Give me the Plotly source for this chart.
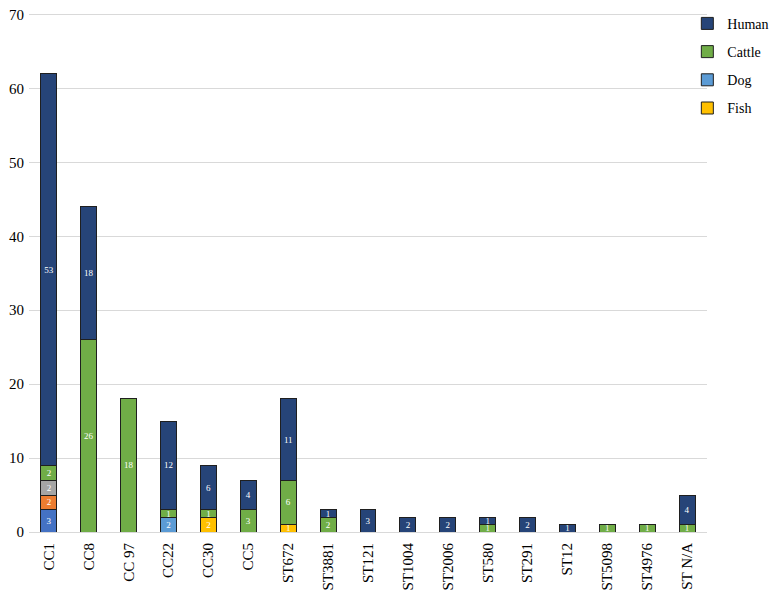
import plotly.graph_objects as go

# kategorie i wartości
categories = ["CC1", "CC8", "CC 97", "CC22", "CC30", "CC5", "ST672", "ST3881", "ST121",
              "ST1004", "ST2006", "ST580", "ST291", "ST12", "ST5098", "ST4976", "ST N/A"]

other_blue = [3, 0, 0, 0, 0, 0, 0, 0, 0, 0, 0, 0, 0, 0, 0, 0, 0]
other_orange = [2, 0, 0, 0, 0, 0, 0, 0, 0, 0, 0, 0, 0, 0, 0, 0, 0]
other_gray = [2, 0, 0, 0, 0, 0, 0, 0, 0, 0, 0, 0, 0, 0, 0, 0, 0]
dog = [0, 0, 0, 2, 0, 0, 0, 0, 0, 0, 0, 0, 0, 0, 0, 0, 0]
fish = [0, 0, 0, 0, 2, 0, 1, 0, 0, 0, 0, 0, 0, 0, 0, 0, 0]
cattle = [2, 26, 18, 1, 1, 3, 6, 2, 0, 0, 0, 1, 0, 0, 1, 1, 1]
human = [53, 18, 0, 12, 6, 4, 11, 1, 3, 2, 2, 1, 2, 1, 0, 0, 4]

y_ticks = [0, 10, 20, 30, 40, 50, 60, 70]

# (nazwa, dane, kolor, w legendzie, kolejność w legendzie)
series = [
    ("Other 1", other_blue, "#4472C4", False, 10),
    ("Other 2", other_orange, "#ED7D31", False, 11),
    ("Other 3", other_gray, "#A5A5A5", False, 12),
    ("Dog", dog, "#5B9BD5", True, 3),
    ("Fish", fish, "#FFC000", True, 4),
    ("Cattle", cattle, "#70AD47", True, 2),
    ("Human", human, "#264478", True, 1),
]

serif = "Liberation Serif, Times New Roman, serif"

fig = go.Figure()
for name, vals, col, show, rank in series:
    ys = [v if v else None for v in vals]
    fig.add_trace(go.Bar(
        x=categories, y=ys, name=name, showlegend=show, legendgroup=name, legendrank=rank,
        marker=dict(color=col, line=dict(color="#1f1f1f", width=1)),
        text=[str(v) if v else "" for v in vals],
        textposition="inside", insidetextanchor="middle", textangle=0,
        textfont=dict(color="white", size=9, family=serif),
    ))

# strona ma 8px marginesu body, więc figura jest o 8px mniejsza
fig.update_layout(
    barmode="stack", bargap=0.6,
    width=770, height=584,
    margin=dict(l=21, r=71, t=5, b=60, autoexpand=False),
    plot_bgcolor="white", paper_bgcolor="white",
    font=dict(family=serif, size=15, color="black"),
    uniformtext=dict(minsize=9, mode="show"),
    legend=dict(x=0.971, y=1.01, xanchor="left", yanchor="top",
                traceorder="grouped", tracegroupgap=7, itemwidth=30,
                bgcolor="rgba(0,0,0,0)", font=dict(size=14, family=serif)),
    showlegend=True,
)
fig.update_yaxes(range=[0, 70.2], tickvals=y_ticks, showgrid=True, gridcolor="#d9d9d9",
                 gridwidth=1, zeroline=False, showline=False, ticks="", ticklen=0,
                 ticklabelstandoff=4, ticklabeloverflow="allow", automargin=False)
fig.update_xaxes(tickangle=-90, showline=True, linecolor="#d9d9d9", linewidth=1,
                 ticks="outside", ticklen=4, tickcolor="rgba(0,0,0,0)",
                 showgrid=False, automargin=False)

fig.write_html("out.html")
